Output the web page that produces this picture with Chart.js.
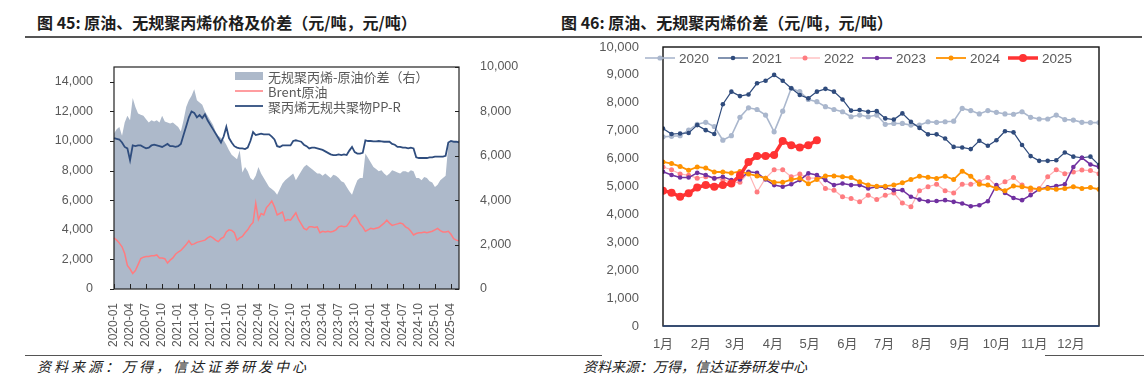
<!DOCTYPE html>
<html>
<head>
<meta charset="utf-8">
<script src="https://cdn.jsdelivr.net/npm/chart.js@4.4.1/dist/chart.umd.min.js"></script>
<style>
body{margin:0;width:1144px;height:380px;background:#fff;position:relative;overflow:hidden;font-family:"Noto Sans CJK SC",sans-serif}
.t{position:absolute;top:11px;font-size:16px;font-weight:bold;color:#1d1d1d;white-space:nowrap;line-height:22px}
.rule{position:absolute;background:#555}
.src{position:absolute;top:356px;font-size:14px;font-style:italic;color:#222;white-space:nowrap;line-height:20px}
#w1{position:absolute;left:40px;top:40px;width:520px;height:315px}
#w2{position:absolute;left:560px;top:38px;width:584px;height:317px}
</style>
</head>
<body>
<div class="t" style="left:37px">图 45: 原油、无规聚丙烯价格及价差（元/吨，元/吨）</div>
<div class="t" style="left:561px">图 46: 原油、无规聚丙烯价差（元/吨，元/吨）</div>
<div class="rule" style="left:25px;top:36px;width:1117px;height:2px"></div>
<div class="rule" style="left:25px;top:355px;width:577px;height:1px"></div>
<div class="rule" style="left:1045px;top:355px;width:99px;height:1px"></div>
<div class="src" style="left:37px;letter-spacing:3px">资料来源：万得，信达证券研发中心</div>
<div class="src" style="left:583px">资料来源：万得，信达证券研发中心</div>
<div id="w1"><canvas id="c1"></canvas></div>
<div id="w2"><canvas id="c2"></canvas></div>
<script>
// ---- 图45: half-month points, 2020-01 .. 2025-05
const pprPrice = [10200,10150,10100,9900,9600,9500,8700,9700,9650,9700,
 9700,9600,9500,9550,9700,9750,9700,9650,9600,9700,
 9800,9650,9650,9600,9650,9800,10400,11000,11600,12000,
 11900,11600,11750,11550,11800,11400,11100,10800,10500,10200,
 9900,10300,10950,10200,9900,9650,9550,9500,9500,9450,
 9550,10000,10600,10400,10450,10500,10450,10450,10450,10300,
 10100,9650,9600,9700,9700,9700,9700,10000,10050,10000,
 9950,9750,9650,9500,9550,9550,9500,9450,9400,9300,
 9200,9100,9050,9050,9100,9050,9100,9050,9350,9600,
 9250,9150,9150,9200,10050,10000,10000,9980,9980,10000,
 9980,9950,9950,9950,9800,9750,9600,9600,9550,9550,
 9500,9550,9500,8900,8850,8850,8850,8850,8900,8900,
 8950,8950,8950,8950,9000,9900,10000,9950,9950,9900];
const brentPrice = [3450,3300,3100,2850,2400,1600,1350,1050,1250,1650,
 2050,2150,2200,2200,2250,2250,2300,2100,2100,2050,
 1750,1950,2100,2350,2500,2600,2800,3000,3250,3000,
 3050,3150,3200,3250,3300,3450,3550,3450,3300,3200,
 3400,3500,3850,4000,3950,3800,3300,3450,3550,3800,
 4000,4300,4500,5800,4700,5100,5000,5500,5700,5950,
 5550,5000,5100,5200,4600,4700,4650,4900,5150,4700,
 4400,4100,4000,4200,4200,4150,4200,3800,3900,3850,
 3900,3850,3900,4000,4200,4250,4200,4250,4500,4800,
 5000,4750,4400,4200,3900,4000,4100,4050,4100,4150,
 4300,4450,4650,4450,4300,4350,4400,4450,4400,4200,
 4100,3900,3650,3750,3800,3800,3850,3800,3850,3900,
 4000,4100,3950,3850,3850,3900,3700,3400,3300,3250];
const spreadRight = [7000,7200,7300,6900,7500,7800,7600,8600,8200,7900,
 7850,7800,7650,7500,7600,7550,7600,7500,7800,7550,
 7500,7450,7500,7400,7300,7100,7600,8200,8500,8700,
 9000,8500,8400,8300,8000,7800,7600,7400,7100,6900,
 6800,6700,6500,6250,6050,5950,5850,6250,5250,5500,
 5300,5000,4900,5100,5500,5200,5000,4800,4600,4500,
 4400,4250,4500,4750,4900,5000,5100,5200,4900,5100,
 5300,5500,5600,5500,5400,5300,5200,5200,5100,5200,
 5100,5000,5150,5100,5000,4850,4800,4600,4400,4250,
 4600,4900,5000,5000,6100,5900,5700,5500,5400,5300,
 5350,5200,5100,5200,5350,5300,5250,5200,5300,5300,
 5250,5350,5300,5000,5000,4900,5050,5000,4850,4800,
 4600,4700,4900,5000,5100,6500,6650,6600,6650,6700];
const leftTicks = [0,2000,4000,6000,8000,10000,12000,14000];
const rightTicks = [0,2000,4000,6000,8000,10000];
const startYear = 2020;
const dateLabels = [];
for (let i = 0; i < pprPrice.length; i++) {
  const m = Math.floor(i / 2);
  dateLabels.push((startYear + Math.floor(m / 12)) + '-' + String(m % 12 + 1).padStart(2, '0') + (i % 2 ? '-16' : '-01'));
}

// ---- 图46: weekly points
const monthNames = ['1月','2月','3月','4月','5月','6月','7月','8月','9月','10月','11月','12月'];
const monthStartDay = [0,31,59,90,120,151,181,212,243,273,304,334];
const y2020 = [6780,6800,6820,7020,7230,7300,7150,6660,6820,7480,7820,7760,7560,6960,7700,8520,8400,8120,8040,7860,7760,7680,7500,
 7560,7500,7560,7230,7260,7260,7200,7200,7320,7300,7320,7340,7800,7720,7600,7720,7660,7600,7590,7680,7480,7420,7420,7560,7400,7380,7300,7290,7290];
const y2021 = [7080,6880,6900,6920,7200,7020,6880,7950,8400,8240,8300,8700,8790,9000,8790,8520,8280,8160,8400,8500,8400,8120,7720,
 7740,7680,7700,7440,7400,7620,7320,7100,6870,6870,6720,6420,6400,6340,6640,6460,6660,6980,6940,6490,6090,5920,5920,5940,6220,6070,6030,6070,5770];
const y2022 = [5700,5600,5450,5400,5300,5350,5300,5250,5150,5150,5500,4800,5300,5600,5600,5350,5450,5300,5300,4930,4870,4630,4570,
 4450,4690,4530,4690,4770,4410,4270,4850,4990,5080,4850,4770,5080,5080,5170,5320,5010,5170,5320,5050,4870,4930,5350,5600,5460,5520,5590,5570,5460];
const y2023 = [5530,5410,5320,5320,5490,5410,5290,5350,5230,5250,5530,5490,5250,5050,4990,5080,5230,5470,5410,5230,5050,5110,5050,
 5050,4930,4990,4960,4870,4870,4630,4530,4470,4480,4510,4450,4390,4290,4330,4470,5050,4770,4590,4510,4690,4900,4970,5020,5080,5700,6030,5790,5700];
const y2024 = [5880,5820,5720,5580,5700,5660,5520,5520,5480,5540,5450,5380,5300,5150,5150,5250,5300,5100,5250,5380,5380,5350,5320,
 5170,5050,5010,5010,5050,5130,5250,5370,5330,5290,5370,5250,5550,5370,5080,5050,4930,4850,5020,4990,4950,4900,4930,4900,4930,4990,4930,4960,4900];
const y2025 = [4845,4780,4630,4760,4965,5050,4990,5050,5110,5400,5880,6090,6090,6130,6630,6480,6400,6480,6660];

Chart.defaults.font.family = '"Liberation Sans","Noto Sans CJK SC",sans-serif';
Chart.defaults.color = '#595959';

// box round the plot + small tick marks
const framePlugin = {
  id: 'frame',
  afterDatasetsDraw(chart, args, o) {
    const {ctx, chartArea: a} = chart;
    ctx.save();
    ctx.strokeStyle = o.color; ctx.lineWidth = o.width;
    ctx.strokeRect(a.left, a.top, a.right - a.left, a.bottom - a.top);
    if (o.bottomColor) {
      ctx.strokeStyle = o.bottomColor;
      ctx.beginPath(); ctx.moveTo(a.left, a.bottom); ctx.lineTo(a.right, a.bottom); ctx.stroke();
    }
    ctx.strokeStyle = o.color; ctx.lineWidth = 1;
    (o.marks || []).forEach(mk => {
      const s = chart.scales[mk.scale];
      s.ticks.forEach((t, i) => {
        const p = Math.round(s.getPixelForTick(i)) + 0.5;
        ctx.beginPath();
        if (mk.scale === 'x') { ctx.moveTo(p, a.bottom); ctx.lineTo(p, a.bottom - mk.len); }
        else if (mk.scale === 'y') { ctx.moveTo(a.left, p); ctx.lineTo(a.left - mk.len, p); }
        else { ctx.moveTo(a.right, p); ctx.lineTo(a.right - mk.len, p); }
        ctx.stroke();
      });
    });
    ctx.restore();
  }
};

// legend drawn where the original has it
const keyPlugin = {
  id: 'key',
  afterDraw(chart, args, o) {
    const ctx = chart.ctx;
    ctx.save();
    ctx.font = o.font; ctx.textBaseline = 'middle';
    o.items.forEach(it => {
      const ds = chart.data.datasets[it.ds];
      if (it.box) {
        ctx.fillStyle = ds.backgroundColor;
        ctx.fillRect(it.x, it.y - 4, o.sample, 8);
      } else {
        ctx.strokeStyle = ds.borderColor; ctx.lineWidth = ds.borderWidth;
        ctx.beginPath(); ctx.moveTo(it.x, it.y); ctx.lineTo(it.x + o.sample, it.y); ctx.stroke();
        if (ds.pointRadius) {
          ctx.fillStyle = ds.pointBackgroundColor;
          ctx.beginPath(); ctx.arc(it.x + o.sample / 2, it.y, ds.pointRadius, 0, Math.PI * 2); ctx.fill();
        }
      }
      ctx.fillStyle = o.textColor;
      ctx.fillText(ds.label, it.x + o.sample + o.gap, it.y + 1);
    });
    ctx.restore();
  }
};

const tickFont = {size: 12.5};

new Chart(document.getElementById('c1'), {
  type: 'line',
  data: {
    labels: dateLabels,
    datasets: [
      {label: '无规聚丙烯-原油价差（右）', data: spreadRight, yAxisID: 'y1', fill: 'origin', backgroundColor: '#ADB9CA', borderWidth: 0, pointRadius: 0, order: 3},
      {label: 'Brent原油', data: brentPrice, yAxisID: 'y', borderColor: '#FF7C80', borderWidth: 1.5, pointRadius: 0, order: 2},
      {label: '聚丙烯无规共聚物PP-R', data: pprPrice, yAxisID: 'y', borderColor: '#2F4D7E', borderWidth: 1.8, pointRadius: 0, order: 1}
    ]
  },
  options: {
    responsive: true, maintainAspectRatio: false, animation: false,
    layout: {padding: {top: 27, left: 0, right: 0, bottom: 0}},
    plugins: {
      legend: {display: false}, tooltip: {enabled: false},
      frame: {color: '#222', width: 1.2, marks: [{scale: 'x', len: 5}, {scale: 'y', len: 4}, {scale: 'y1', len: 4}]},
      key: {font: '13px "Noto Sans CJK SC", sans-serif', textColor: '#595959', sample: 28, gap: 5,
        items: [{ds: 0, box: true, x: 195, y: 36}, {ds: 1, x: 195, y: 51}, {ds: 2, x: 195, y: 66}]}
    },
    scales: {
      x: {
        grid: {display: false}, border: {display: false},
        ticks: {autoSkip: false, maxRotation: 90, minRotation: 90, padding: 6, font: {size: 12},
          callback: function (v) { return this.getLabelForValue(v).slice(0, 7); }},
        afterBuildTicks: s => {
          s.ticks = s.ticks.filter(t => {
            const l = dateLabels[t.value];
            return l.endsWith('-01') && ['01', '04', '07', '10'].includes(l.slice(5, 7));
          });
        },
        afterFit: s => { s.height = 66; }
      },
      y: {
        min: 0, max: 15000,
        afterBuildTicks: s => { s.ticks = leftTicks.map(v => ({value: v})); },
        ticks: {padding: 13, font: tickFont, callback: v => v.toLocaleString('en-US')},
        grid: {display: false}, border: {display: false},
        afterFit: s => { s.width = 74; s.paddingTop = 0; s.paddingBottom = 0; }
      },
      y1: {
        position: 'right', min: 0, max: 10000,
        afterBuildTicks: s => { s.ticks = rightTicks.map(v => ({value: v})); },
        ticks: {padding: 13, font: tickFont, callback: v => v.toLocaleString('en-US')},
        grid: {display: false}, border: {display: false},
        afterFit: s => { s.width = 101; s.paddingTop = 0; s.paddingBottom = 0; }
      }
    }
  },
  plugins: [framePlugin, keyPlugin]
});

const pts = arr => arr.map((v, i) => ({x: i, y: v}));
const yearSets = [
  {label: '2020', data: pts(y2020), borderColor: '#AAB7CD', pointBackgroundColor: '#AAB7CD', borderWidth: 1.6, pointRadius: 2.6, order: 6},
  {label: '2021', data: pts(y2021), borderColor: '#2F4B7C', pointBackgroundColor: '#2F4B7C', borderWidth: 1.2, pointRadius: 2.3, order: 5},
  {label: '2022', data: pts(y2022), borderColor: '#FFB3B5', pointBackgroundColor: '#FF7C80', borderWidth: 1.2, pointRadius: 2.5, order: 4},
  {label: '2023', data: pts(y2023), borderColor: '#7030A0', pointBackgroundColor: '#7030A0', borderWidth: 1.5, pointRadius: 2.3, order: 3},
  {label: '2024', data: pts(y2024), borderColor: '#FF9200', pointBackgroundColor: '#FF9200', borderWidth: 1.8, pointRadius: 2.5, order: 2},
  {label: '2025', data: pts(y2025), borderColor: '#FF3333', pointBackgroundColor: '#FF3333', borderWidth: 3.5, pointRadius: 4, order: 1}
];
yearSets.forEach(d => { d.pointBorderWidth = 0; d.pointHoverRadius = 0; d.fill = false; });

new Chart(document.getElementById('c2'), {
  type: 'line',
  data: {datasets: yearSets},
  options: {
    responsive: true, maintainAspectRatio: false, animation: false,
    layout: {padding: {top: 9, right: 45, left: 0, bottom: 0}},
    plugins: {
      legend: {display: false}, tooltip: {enabled: false},
      frame: {color: '#111', width: 1.4, bottomColor: '#2F4B7C'},
      key: {font: '13.5px "Liberation Sans", sans-serif', textColor: '#595959', sample: 30, gap: 4,
        items: [{ds: 0, x: 85, y: 20}, {ds: 1, x: 158, y: 20}, {ds: 2, x: 230, y: 20},
                {ds: 3, x: 302, y: 20}, {ds: 4, x: 376, y: 20}, {ds: 5, x: 448, y: 20}]}
    },
    scales: {
      x: {
        type: 'linear', min: 0, max: 51,
        grid: {display: false}, border: {display: false},
        afterBuildTicks: s => { s.ticks = monthStartDay.map(d => ({value: d / 7})); },
        ticks: {autoSkip: false, maxRotation: 0, padding: 3, font: {size: 13}, callback: (v, i) => monthNames[i]},
        afterFit: s => { s.height = 29; }
      },
      y: {
        min: 0, max: 10000,
        ticks: {stepSize: 1000, padding: 16, font: {size: 13}, callback: v => v.toLocaleString('en-US')},
        grid: {display: false}, border: {display: false},
        afterFit: s => { s.width = 103; s.paddingTop = 0; s.paddingBottom = 0; }
      }
    }
  },
  plugins: [framePlugin, keyPlugin]
});
</script>
</body>
</html>
